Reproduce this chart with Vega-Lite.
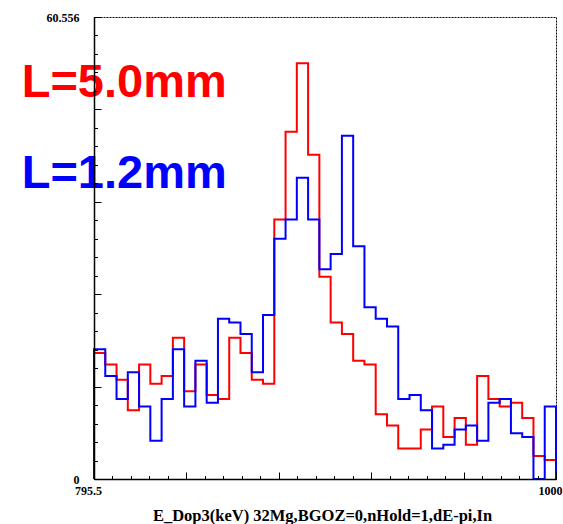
{
  "$schema": "https://vega.github.io/schema/vega-lite/v6.json",
  "width": 462,
  "height": 462,
  "autosize": "none",
  "padding": {"left": 94, "top": 17, "right": 7, "bottom": 45},
  "background": "white",
  "config": {"view": {"stroke": "black", "strokeDash": [2, 1], "strokeWidth": 1}},
  "datasets": {
    "hist": [
      {"s": "L=5.0mm", "i": 0, "x": 795.5, "y": 0},
      {"s": "L=5.0mm", "i": 1, "x": 795.5, "y": 16.5},
      {"s": "L=5.0mm", "i": 2, "x": 800.488, "y": 15},
      {"s": "L=5.0mm", "i": 3, "x": 805.476, "y": 13},
      {"s": "L=5.0mm", "i": 4, "x": 810.463, "y": 9},
      {"s": "L=5.0mm", "i": 5, "x": 815.451, "y": 15},
      {"s": "L=5.0mm", "i": 6, "x": 820.439, "y": 12.5},
      {"s": "L=5.0mm", "i": 7, "x": 825.427, "y": 13.5},
      {"s": "L=5.0mm", "i": 8, "x": 830.415, "y": 18.5},
      {"s": "L=5.0mm", "i": 9, "x": 835.402, "y": 11.5},
      {"s": "L=5.0mm", "i": 10, "x": 840.39, "y": 15},
      {"s": "L=5.0mm", "i": 11, "x": 845.378, "y": 11},
      {"s": "L=5.0mm", "i": 12, "x": 850.366, "y": 10.5},
      {"s": "L=5.0mm", "i": 13, "x": 855.354, "y": 18.5},
      {"s": "L=5.0mm", "i": 14, "x": 860.341, "y": 16.5},
      {"s": "L=5.0mm", "i": 15, "x": 865.329, "y": 13},
      {"s": "L=5.0mm", "i": 16, "x": 870.317, "y": 12.5},
      {"s": "L=5.0mm", "i": 17, "x": 875.305, "y": 34},
      {"s": "L=5.0mm", "i": 18, "x": 880.293, "y": 45.5},
      {"s": "L=5.0mm", "i": 19, "x": 885.28, "y": 54.5},
      {"s": "L=5.0mm", "i": 20, "x": 890.268, "y": 42.5},
      {"s": "L=5.0mm", "i": 21, "x": 895.256, "y": 26.5},
      {"s": "L=5.0mm", "i": 22, "x": 900.244, "y": 20.5},
      {"s": "L=5.0mm", "i": 23, "x": 905.232, "y": 19},
      {"s": "L=5.0mm", "i": 24, "x": 910.22, "y": 15.5},
      {"s": "L=5.0mm", "i": 25, "x": 915.207, "y": 15},
      {"s": "L=5.0mm", "i": 26, "x": 920.195, "y": 8.5},
      {"s": "L=5.0mm", "i": 27, "x": 925.183, "y": 7},
      {"s": "L=5.0mm", "i": 28, "x": 930.171, "y": 4},
      {"s": "L=5.0mm", "i": 29, "x": 935.159, "y": 4},
      {"s": "L=5.0mm", "i": 30, "x": 940.146, "y": 6.5},
      {"s": "L=5.0mm", "i": 31, "x": 945.134, "y": 9.5},
      {"s": "L=5.0mm", "i": 32, "x": 950.122, "y": 5.5},
      {"s": "L=5.0mm", "i": 33, "x": 955.11, "y": 8},
      {"s": "L=5.0mm", "i": 34, "x": 960.098, "y": 4.5},
      {"s": "L=5.0mm", "i": 35, "x": 965.085, "y": 13.5},
      {"s": "L=5.0mm", "i": 36, "x": 970.073, "y": 10.5},
      {"s": "L=5.0mm", "i": 37, "x": 975.061, "y": 9.5},
      {"s": "L=5.0mm", "i": 38, "x": 980.049, "y": 10},
      {"s": "L=5.0mm", "i": 39, "x": 985.037, "y": 8},
      {"s": "L=5.0mm", "i": 40, "x": 990.024, "y": 3},
      {"s": "L=5.0mm", "i": 41, "x": 995.012, "y": 2.5},
      {"s": "L=5.0mm", "i": 42, "x": 1000, "y": 2.5},
      {"s": "L=5.0mm", "i": 43, "x": 1000, "y": 0},
      {"s": "L=1.2mm", "i": 0, "x": 795.5, "y": 0},
      {"s": "L=1.2mm", "i": 1, "x": 795.5, "y": 17},
      {"s": "L=1.2mm", "i": 2, "x": 800.488, "y": 13.5},
      {"s": "L=1.2mm", "i": 3, "x": 805.476, "y": 10.5},
      {"s": "L=1.2mm", "i": 4, "x": 810.463, "y": 14},
      {"s": "L=1.2mm", "i": 5, "x": 815.451, "y": 9.5},
      {"s": "L=1.2mm", "i": 6, "x": 820.439, "y": 5},
      {"s": "L=1.2mm", "i": 7, "x": 825.427, "y": 10.5},
      {"s": "L=1.2mm", "i": 8, "x": 830.415, "y": 17},
      {"s": "L=1.2mm", "i": 9, "x": 835.402, "y": 9.5},
      {"s": "L=1.2mm", "i": 10, "x": 840.39, "y": 15.5},
      {"s": "L=1.2mm", "i": 11, "x": 845.378, "y": 10},
      {"s": "L=1.2mm", "i": 12, "x": 850.366, "y": 21},
      {"s": "L=1.2mm", "i": 13, "x": 855.354, "y": 20.5},
      {"s": "L=1.2mm", "i": 14, "x": 860.341, "y": 19},
      {"s": "L=1.2mm", "i": 15, "x": 865.329, "y": 14},
      {"s": "L=1.2mm", "i": 16, "x": 870.317, "y": 21.5},
      {"s": "L=1.2mm", "i": 17, "x": 875.305, "y": 31.5},
      {"s": "L=1.2mm", "i": 18, "x": 880.293, "y": 34},
      {"s": "L=1.2mm", "i": 19, "x": 885.28, "y": 39.5},
      {"s": "L=1.2mm", "i": 20, "x": 890.268, "y": 34},
      {"s": "L=1.2mm", "i": 21, "x": 895.256, "y": 27.5},
      {"s": "L=1.2mm", "i": 22, "x": 900.244, "y": 29.5},
      {"s": "L=1.2mm", "i": 23, "x": 905.232, "y": 45},
      {"s": "L=1.2mm", "i": 24, "x": 910.22, "y": 30.5},
      {"s": "L=1.2mm", "i": 25, "x": 915.207, "y": 22.5},
      {"s": "L=1.2mm", "i": 26, "x": 920.195, "y": 21},
      {"s": "L=1.2mm", "i": 27, "x": 925.183, "y": 20},
      {"s": "L=1.2mm", "i": 28, "x": 930.171, "y": 10.5},
      {"s": "L=1.2mm", "i": 29, "x": 935.159, "y": 11},
      {"s": "L=1.2mm", "i": 30, "x": 940.146, "y": 9},
      {"s": "L=1.2mm", "i": 31, "x": 945.134, "y": 4},
      {"s": "L=1.2mm", "i": 32, "x": 950.122, "y": 4.5},
      {"s": "L=1.2mm", "i": 33, "x": 955.11, "y": 6.5},
      {"s": "L=1.2mm", "i": 34, "x": 960.098, "y": 7},
      {"s": "L=1.2mm", "i": 35, "x": 965.085, "y": 5},
      {"s": "L=1.2mm", "i": 36, "x": 970.073, "y": 10},
      {"s": "L=1.2mm", "i": 37, "x": 975.061, "y": 10.5},
      {"s": "L=1.2mm", "i": 38, "x": 980.049, "y": 6},
      {"s": "L=1.2mm", "i": 39, "x": 985.037, "y": 5.5},
      {"s": "L=1.2mm", "i": 40, "x": 990.024, "y": 0},
      {"s": "L=1.2mm", "i": 41, "x": 995.012, "y": 9.5},
      {"s": "L=1.2mm", "i": 42, "x": 1000, "y": 9.5},
      {"s": "L=1.2mm", "i": 43, "x": 1000, "y": 0}
    ],
    "labels": [
      {"label": "L=5.0mm", "x": 763.5, "y": 50.1},
      {"label": "L=1.2mm", "x": 763.5, "y": 38.2}
    ]
  },
  "resolve": {"axis": {"x": "independent", "y": "independent"}},
  "layer": [
    {
      "data": {"name": "labels"},
      "mark": {"type": "text", "font": "Liberation Sans", "fontWeight": "bold", "fontSize": 47, "align": "left", "baseline": "alphabetic"},
      "encoding": {
        "x": {
          "field": "x", "type": "quantitative",
          "scale": {"domain": [795.5, 1000], "nice": false, "zero": false},
          "axis": {
            "orient": "bottom", "zindex": 1,
            "values": [795.5, 803.68, 811.86, 820.04, 828.22, 836.4, 844.58, 852.76, 860.94, 869.12, 877.3, 885.48, 893.66, 901.84, 910.02, 918.2, 926.38, 934.56, 942.74, 950.92, 959.1, 967.28, 975.46, 983.64, 991.82, 1000],
            "tickSize": -3.5, "tickColor": "black", "tickWidth": 1,
            "domainColor": "black", "domainWidth": 1.5,
            "grid": false, "labels": false, "title": null
          }
        },
        "y": {
          "field": "y", "type": "quantitative",
          "scale": {"domain": [0, 60.556], "nice": false, "zero": true},
          "axis": {
            "orient": "left", "zindex": 1,
            "values": [0, 2.42224, 4.84448, 7.26672, 9.68896, 12.1112, 14.53344, 16.95568, 19.37792, 21.80016, 24.2224, 26.64464, 29.06688, 31.48912, 33.91136, 36.3336, 38.75584, 41.17808, 43.60032, 46.02256, 48.4448, 50.86704, 53.28928, 55.71152, 58.13376, 60.556],
            "tickSize": -3.5, "tickColor": "black", "tickWidth": 1,
            "domainColor": "black", "domainWidth": 1.5,
            "grid": false, "labels": false, "title": null
          }
        },
        "text": {"field": "label"},
        "color": {"field": "label", "type": "nominal", "scale": {"domain": ["L=5.0mm", "L=1.2mm"], "range": ["#ff0000", "#0000ff"]}, "legend": null}
      }
    },
    {
      "data": {"name": "hist"},
      "transform": [{"filter": "datum.s == 'L=5.0mm'"}],
      "mark": {"type": "line", "interpolate": "step-after", "color": "#ff0000", "strokeWidth": 2},
      "encoding": {
        "x": {
          "field": "x", "type": "quantitative",
          "axis": {
            "orient": "bottom", "zindex": 1,
            "values": [795.5, 836.4, 877.3, 918.2, 959.1, 1000],
            "tickSize": -7, "tickColor": "black", "tickWidth": 1,
            "domain": false, "grid": false,
            "labelExpr": "datum.index < 0.001 ? '795.5' : (datum.index > 0.999 ? '1000' : '')",
            "labelFont": "Liberation Serif", "labelFontWeight": "bold", "labelFontSize": 12, "labelColor": "black",
            "labelPadding": 13, "labelOffset": -6, "labelOverlap": false, "labelFlush": false, "labelBound": false,
            "title": "E_Dop3(keV) 32Mg,BGOZ=0,nHold=1,dE-pi,In",
            "titleFont": "Liberation Serif", "titleFontSize": 16.5, "titleFontWeight": "bold", "titleColor": "black",
            "titleBaseline": "alphabetic", "titleY": 41, "titleX": 228
          }
        },
        "y": {
          "field": "y", "type": "quantitative",
          "axis": {
            "orient": "left", "zindex": 1,
            "values": [0, 12.1112, 24.2224, 36.3336, 48.4448, 60.556],
            "tickSize": -7, "tickColor": "black", "tickWidth": 1,
            "domain": false, "grid": false,
            "labelExpr": "datum.index < 0.001 ? '0' : (datum.index > 0.999 ? '60.556' : '')",
            "labelFont": "Liberation Serif", "labelFontWeight": "bold", "labelFontSize": 12, "labelColor": "black",
            "labelPadding": 22, "labelOverlap": false, "labelFlush": false, "labelBound": false,
            "title": null
          }
        },
        "order": {"field": "i", "type": "quantitative"}
      }
    },
    {
      "data": {"name": "hist"},
      "transform": [{"filter": "datum.s == 'L=1.2mm'"}],
      "mark": {"type": "line", "interpolate": "step-after", "color": "#0000ff", "strokeWidth": 2},
      "encoding": {
        "x": {"field": "x", "type": "quantitative", "axis": null},
        "y": {"field": "y", "type": "quantitative", "axis": null},
        "order": {"field": "i", "type": "quantitative"}
      }
    }
  ]
}
